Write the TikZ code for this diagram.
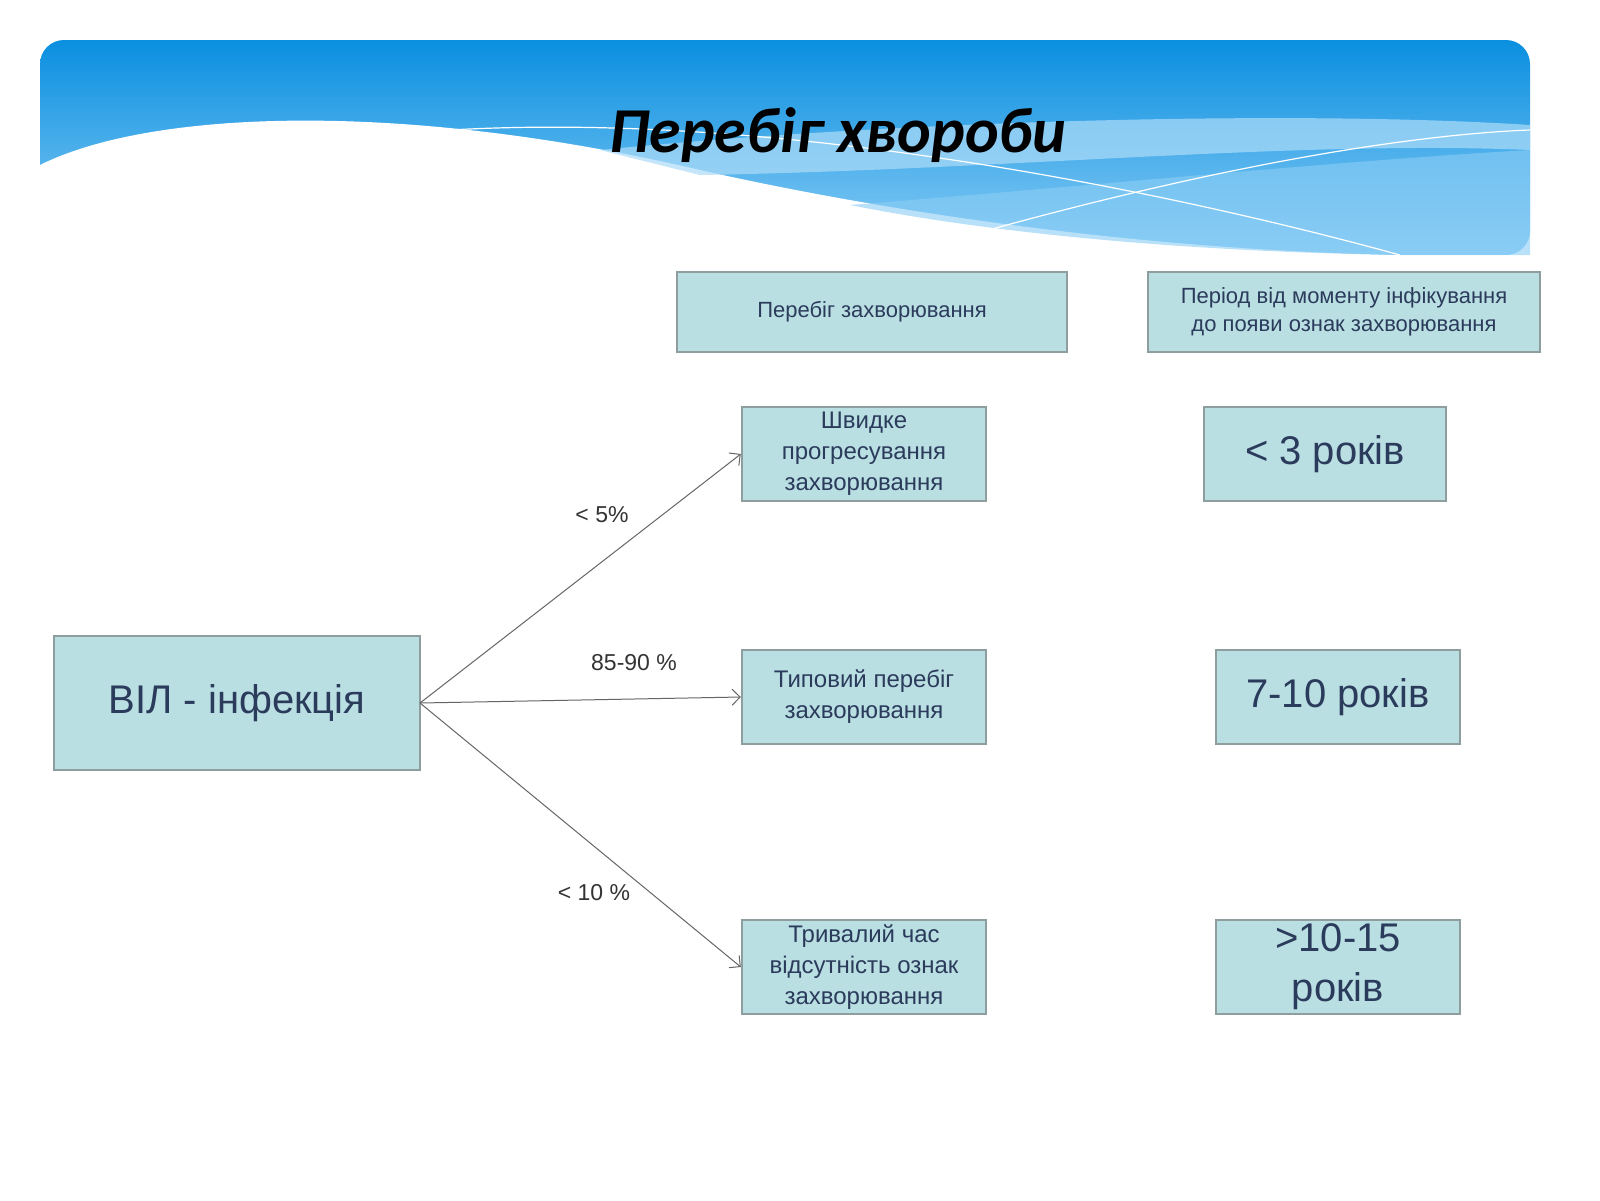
\documentclass[tikz,border=0pt]{standalone}
\usepackage{fontspec}
\setmainfont{Liberation Sans}
\newfontfamily\titlefont{Carlito}
\usetikzlibrary{arrows.meta}
\definecolor{boxfill}{HTML}{BADFE2}
\definecolor{boxline}{HTML}{8E9E9E}
\definecolor{txt}{HTML}{2B3B5C}
\definecolor{bandA}{HTML}{0A8FE0}
\definecolor{bandB}{HTML}{8ACDF5}
\tikzset{
 bx/.style={draw=boxline,line width=1.2pt,fill=boxfill,text=txt,align=center,inner sep=0pt},
 sm/.style={font=\fontsize{12}{15.5}\selectfont},
 bg/.style={font=\fontsize{20}{25}\selectfont},
 hd/.style={font=\fontsize{11}{14}\selectfont},
 arr/.style={draw=gray!80!black,line width=0.5pt,-{Straight Barb[length=4pt]}},
 lb/.style={font=\fontsize{11.5}{13}\selectfont,text=black!80}
}
\begin{document}
\begin{tikzpicture}[x=0.5pt,y=-0.5pt]
\useasboundingbox (0,0) rectangle (1600,1200);
\fill[white] (0,0) rectangle (1600,1200);
% header band
\shade[top color=bandA,bottom color=bandB,rounded corners=12pt] (40,40) rectangle (1530,255);
\fill[white] (40,165) .. controls (150,110) and (400,100) .. (700,170)
  .. controls (900,215) and (1150,250) .. (1400,255) -- (1530,255) -- (1530,262) -- (40,262) -- cycle;
\fill[bandB!70!white,opacity=0.7] (600,150) .. controls (900,120) and (1300,110) .. (1530,125) -- (1530,150) .. controls (1300,140) and (1000,170) .. (700,175) -- cycle;
\fill[bandB,opacity=0.6] (850,205) .. controls (1100,185) and (1350,160) .. (1530,150) -- (1530,255) -- (1400,255) .. controls (1200,252) and (1000,235) .. cycle;
\draw[white,line width=0.6pt] (450,130) .. controls (800,110) and (1200,200) .. (1400,255);
\draw[white,line width=0.6pt] (960,238) .. controls (1200,170) and (1400,135) .. (1530,130);
\node[font=\titlefont\bfseries\itshape\fontsize{32}{36}\selectfont] (title) at (838,135) {Перебіг хвороби};
% boxes
\node[bx,hd,minimum width=195pt,minimum height=40pt] (h1) at (872,312) {Перебіг захворювання};
\node[bx,hd,minimum width=196pt,minimum height=40pt] (h2) at (1344,312) {Період від моменту інфікування\\до появи ознак захворювання};
\node[bx,sm,minimum width=122pt,minimum height=47pt] (f) at (864,454) {Швидке\\прогресування\\захворювання};
\node[bx,sm,minimum width=122pt,minimum height=47pt] (t) at (864,697) {Типовий перебіг\\захворювання};
\node[bx,sm,minimum width=122pt,minimum height=47pt] (l) at (864,967) {Тривалий час\\відсутність ознак\\захворювання};
\node[bx,bg,minimum width=121pt,minimum height=47pt] (r1) at (1325,454) {< 3 років};
\node[bx,bg,minimum width=122pt,minimum height=47pt] (r2) at (1338,697) {7-10 років};
\node[bx,bg,minimum width=122pt,minimum height=47pt] (r3) at (1338,967) {>10-15\\років};
\node[bx,bg,minimum width=183pt,minimum height=67pt] (v) at (237,703) {ВІЛ - інфекція};
\coordinate (o) at (420,703);
\draw[arr] (o) -- (f.west);
\draw[arr] (o) -- (t.west);
\draw[arr] (o) -- (l.west);
\node[lb] (a1) at (602,515) {< 5\%};
\node[lb] (a2) at (634,663) {85-90 \%};
\node[lb] (a3) at (594,893) {< 10 \%};
\end{tikzpicture}
\end{document}
